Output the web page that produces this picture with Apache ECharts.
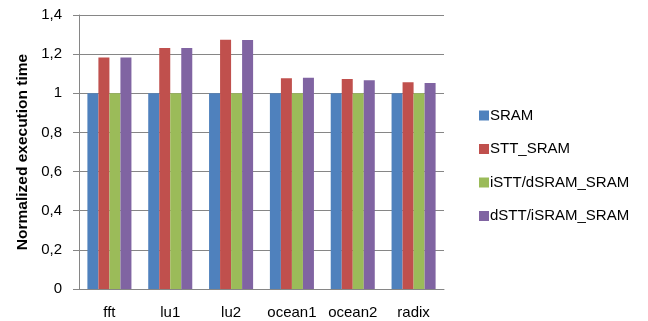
<!DOCTYPE html>
<html><head><meta charset="utf-8">
<script src="https://cdn.jsdelivr.net/npm/echarts@6/dist/echarts.min.js"></script>
<style>html,body{margin:0;padding:0;background:#fff}#c{width:648px;height:321px}</style>
</head><body><div id="c"></div>
<script>
var categories = ['fft','lu1','lu2','ocean1','ocean2','radix'];
var seriesNames = ['SRAM','STT_SRAM','iSTT/dSRAM_SRAM','dSTT/iSRAM_SRAM'];
var sram = [1,1,1,1,1,1];
var sttSram = [1.183,1.232,1.274,1.077,1.073,1.056];
var isttDsram = [1,1,1,1,1,1];
var dsttIsram = [1.183,1.232,1.272,1.080,1.066,1.053];
var yTicks = {min:0, max:1.4, interval:0.2};
var colors = ['#4F81BD','#C0504D','#9BBB59','#8064A2'];
var F = '"Liberation Sans", Arial, sans-serif';
var chart = echarts.init(document.getElementById('c'));
var values = [sram, sttSram, isttDsram, dsttIsram];
chart.setOption({
  animation:false,
  color: colors,
  grid:{left:79, right:204, top:15, bottom:32, containLabel:false},
  legend:{
    orient:'vertical', left:474, top:103, itemWidth:10, itemHeight:10, itemGap:18.5,
    icon:'rect',
    textStyle:{fontFamily:F, fontSize:15, color:'#000', padding:[0,0,0,-4]},
    data: seriesNames
  },
  xAxis:{
    type:'category', data:categories,
    axisLine:{lineStyle:{color:'#868686', width:1}},
    axisTick:{length:5, lineStyle:{color:'#868686'}},
    axisLabel:{interval:0, hideOverlap:false, fontFamily:F, fontSize:15, color:'#000', margin:16}
  },
  yAxis:{
    type:'value', min:yTicks.min, max:yTicks.max, interval:yTicks.interval,
    name:'Normalized execution time', nameLocation:'middle', nameGap:48,
    nameTextStyle:{fontFamily:F, fontSize:15.5, fontWeight:'bold', color:'#000'},
    axisLine:{show:true, lineStyle:{color:'#868686'}},
    axisTick:{show:true, length:6, lineStyle:{color:'#868686'}},
    splitLine:{lineStyle:{color:'#868686'}},
    axisLabel:{fontFamily:F, fontSize:15, color:'#000', margin:17,
      formatter:function(v){return String(Math.round(v*10)/10).replace('.',',');}}
  },
  series: seriesNames.map(function(n,i){
    return {name:n, type:'bar', data:values[i], barGap:'0%', barCategoryGap:'27.6%',
      itemStyle:{color:colors[i]}};
  })
});
</script></body></html>
